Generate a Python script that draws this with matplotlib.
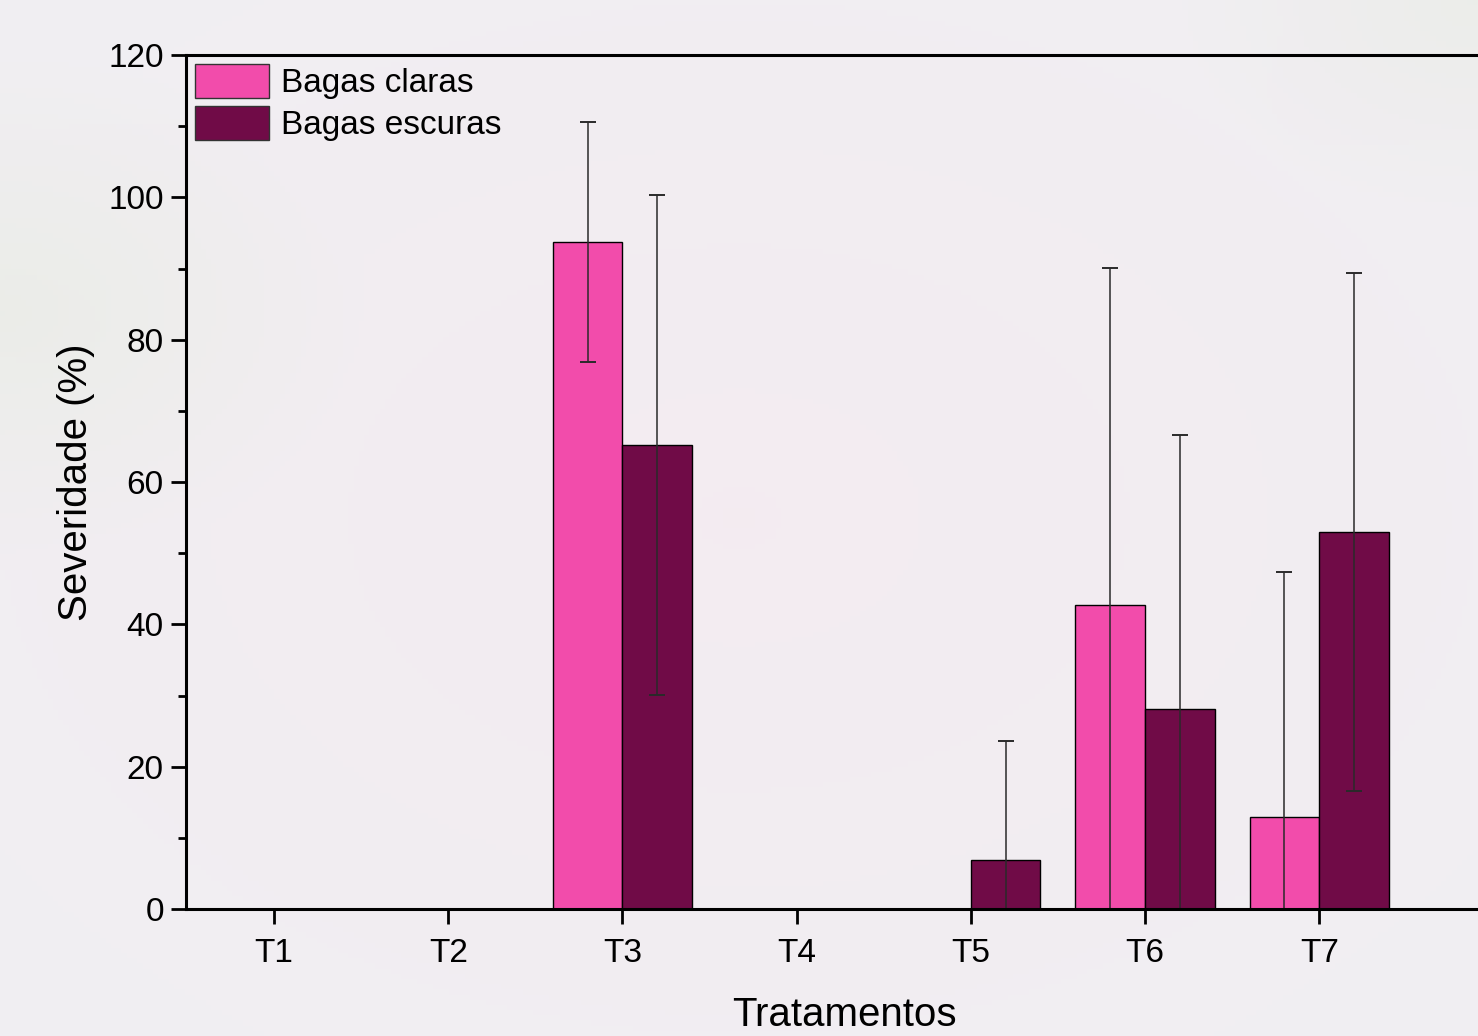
import numpy as np
import matplotlib
matplotlib.use("Agg")
import matplotlib.pyplot as plt
from matplotlib.patches import Patch

plt.rcParams['font.family'] = ['Liberation Sans', 'DejaVu Sans']

categories = ["T1", "T2", "T3", "T4", "T5", "T6", "T7"]
claras = [0, 0, 93.7, 0, 0, 42.7, 12.9]
claras_sd = [0, 0, 16.9, 0, 0, 47.4, 34.5]
escuras = [0, 0, 65.2, 0, 6.9, 28.1, 53.0]
escuras_sd = [0, 0, 35.1, 0, 16.7, 38.5, 36.4]

W, H = 1478, 1036
fig = plt.figure(figsize=(W / 100, H / 100), dpi=100)

# soft background (faded photo look)
bg = fig.add_axes([0, 0, 1, 1], zorder=-10)
yy, xx = np.mgrid[0:1:200j, 0:1:280j]
base = np.array([0.945, 0.935, 0.950])
pink = np.array([0.955, 0.925, 0.945])
green = np.array([0.905, 0.925, 0.885])
r = np.sqrt((xx - 0.5) ** 2 + (yy - 0.5) ** 2)
wp = np.clip(1 - r / 0.6, 0, 1)[..., None]
wg = np.clip(1 - np.sqrt((xx - 0.0) ** 2 + (yy - 0.3) ** 2) / 0.25, 0, 1)[..., None] * 0.6
wg2 = np.clip(1 - np.sqrt((xx - 1.0) ** 2 + (yy - 0.0) ** 2) / 0.2, 0, 1)[..., None] * 0.5
img = base * (1 - wp) + pink * wp
img = img * (1 - wg) + green * wg
img = img * (1 - wg2) + green * wg2
bg.imshow(img, aspect='auto', extent=[0, 1, 0, 1], origin='upper')
bg.axis('off')

left_px, right_px = 186, 1490
bot_px, top_px = 909, 55
ax = fig.add_axes([left_px / W, (H - bot_px) / H, (right_px - left_px) / W, (bot_px - top_px) / H])
ax.patch.set_alpha(0)

x = np.arange(1, len(categories) + 1)
bw = 0.4
c_pink = "#F24CAB"
c_dark = "#700B47"

def lower(vals, sds):
    return [min(v, s) for v, s in zip(vals, sds)]

ek = dict(ecolor="#2a2a2a", elinewidth=1.1, capsize=5.8, capthick=1.4)
ax.bar(x - bw / 2, claras, bw, color=c_pink, edgecolor="black", linewidth=1.0,
       yerr=[lower(claras, claras_sd), claras_sd], error_kw=ek, label="Bagas claras")
ax.bar(x + bw / 2, escuras, bw, color=c_dark, edgecolor="black", linewidth=1.0,
       yerr=[lower(escuras, escuras_sd), escuras_sd], error_kw=ek, label="Bagas escuras")

ppu = 174.2
x0 = 1 - (274 - left_px) / ppu
ax.set_xlim(x0, x0 + (right_px - left_px) / ppu)
ax.set_ylim(0, 120)
ax.set_xticks(x)
ax.set_xticklabels(categories)
ax.set_yticks(np.arange(0, 121, 20))
ax.set_yticks(np.arange(10, 120, 20), minor=True)

for s in ['left', 'bottom', 'top']:
    ax.spines[s].set_linewidth(2.2)
ax.spines['right'].set_visible(False)
ax.tick_params(axis='both', which='major', direction='out', length=11, width=2, pad=6)
ax.tick_params(axis='x', which='major', labelsize=24, pad=10)
ax.tick_params(axis='y', which='major', labelsize=24, pad=5)
ax.tick_params(axis='y', which='minor', direction='out', length=6, width=2)
ax.tick_params(axis='x', which='minor', bottom=False)

ax.set_ylabel("Severidade (%)", fontsize=29)
ax.yaxis.set_label_coords((95 - left_px) / (right_px - left_px), 0.5)
ax.set_xlabel("Tratamentos", fontsize=29, va='baseline')
ax.xaxis.set_label_coords((844.5 - left_px) / (right_px - left_px), -(1026 - bot_px) / (bot_px - top_px))

handles = [Patch(facecolor=c_pink, edgecolor="#333333", linewidth=1.0),
           Patch(facecolor=c_dark, edgecolor="#333333", linewidth=1.0)]
ax.legend(handles, ["Bagas claras", "Bagas escuras"], loc="upper left", frameon=False,
          fontsize=24, handlelength=2.22, handleheight=1.2, labelspacing=0.2,
          handletextpad=0.36, borderaxespad=0.12, borderpad=0.15)

fig.savefig("out.png", dpi=100)
